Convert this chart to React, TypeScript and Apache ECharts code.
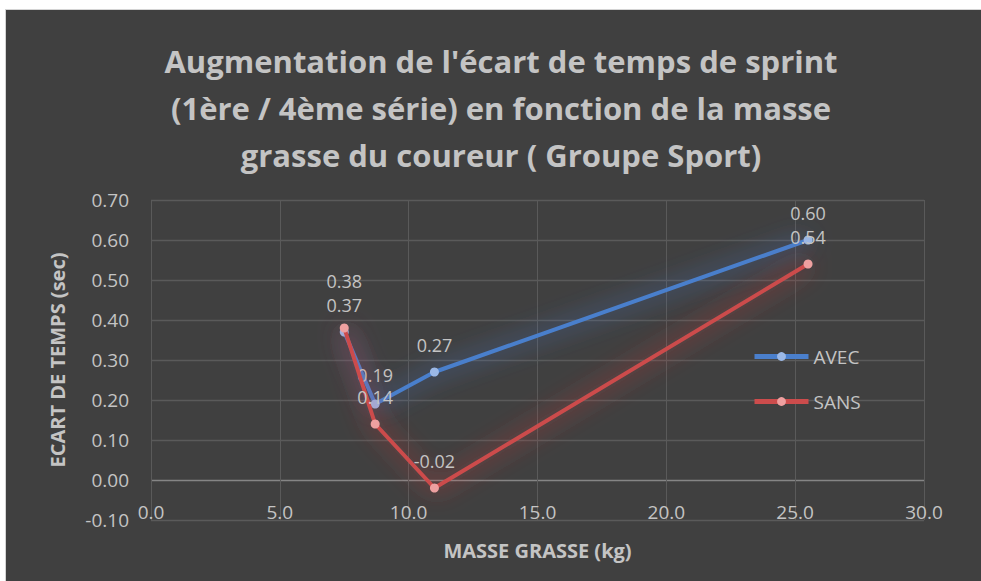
import React, { useEffect, useRef } from "react";
import * as echarts from "echarts";

const seriesNames = ["AVEC", "SANS"];
const masseGrasse = [7.5, 8.7, 11.0, 25.5];
const avecValues = [0.37, 0.19, 0.27, 0.6];
const sansValues = [0.38, 0.14, -0.02, 0.54];
const titleLines = [
  "Augmentation de l'écart de temps de sprint",
  "(1ère / 4ème série) en fonction de la masse",
  "grasse du coureur ( Groupe Sport)",
];
const xAxisTitle = "MASSE GRASSE (kg)";
const yAxisTitle = "ECART DE TEMPS (sec)";

const TEXT = "#c4c4c4";
const GRID = "#5a5a5a";
const ZERO = "#858585";
const FONT = "'Open Sans', 'Noto Sans', sans-serif";

export default function App() {
  const ref = useRef<HTMLDivElement>(null);
  useEffect(() => {
    if (!ref.current) return;
    const chart = echarts.init(ref.current, undefined, { renderer: "svg" });
    const mk = (xs: number[], ys: number[], extra?: Record<number, any>) =>
      xs.map((x, i) => {
        const item: any = { value: [x, ys[i]] };
        if (extra && extra[i]) item.label = extra[i];
        return item;
      });
    const labelBase = {
      show: true,
      position: "top",
      distance: 14,
      color: TEXT,
      fontSize: 18,
      lineHeight: 17,
      fontFamily: FONT,
      formatter: (p: any) => p.value[1].toFixed(2),
    };
    // grid line colours: tick -0.10 .. 0.70, the 0.00 line is brighter
    const yTickCount = 9;
    const ySplitColors = Array.from({ length: yTickCount }, (_, i) => (i === 1 ? ZERO : GRID));
    chart.setOption({
      animation: false,
      backgroundColor: "#ffffff",
      graphic: [
        {
          type: "rect",
          z: -10,
          shape: { x: 5.5, y: 9.5, width: 980, height: 580 },
          style: { fill: "#404040", stroke: "#d4d4d4", lineWidth: 1 },
          silent: true,
        },
      ],
      title: {
        text: titleLines.join("\n"),
        left: 496,
        textAlign: "center",
        top: 32,
        textStyle: {
          color: TEXT,
          fontSize: 31,
          fontWeight: "bold",
          fontFamily: FONT,
          lineHeight: 47,
        },
      },
      legend: {
        orient: "vertical",
        left: 752,
        top: 347,
        padding: 0,
        itemWidth: 54,
        itemHeight: 11,
        itemGap: 26,
        lineStyle: { width: 5 },
        textStyle: { color: TEXT, fontSize: 19, fontFamily: FONT },
        data: seriesNames,
      },
      grid: { left: 151, right: 57, top: 200, bottom: 61, outerBoundsMode: "none" },
      xAxis: {
        type: "value",
        min: 0,
        max: 30,
        interval: 5,
        name: xAxisTitle,
        nameLocation: "middle",
        nameGap: 20,
        nameTextStyle: { color: TEXT, fontSize: 20, fontWeight: "bold", fontFamily: FONT },
        axisLine: { show: false, onZero: false },
        axisTick: { show: false },
        axisLabel: {
          color: TEXT,
          fontSize: 19,
          fontFamily: FONT,
          margin: -18,
          formatter: (v: number) => v.toFixed(1),
        },
        splitLine: { show: true, lineStyle: { color: GRID, width: 1 } },
      },
      yAxis: {
        type: "value",
        min: -0.1,
        max: 0.7,
        interval: 0.1,
        name: yAxisTitle,
        nameLocation: "middle",
        nameGap: 84,
        nameTextStyle: { color: TEXT, fontSize: 20, fontWeight: "bold", fontFamily: FONT },
        axisLine: { show: false },
        axisTick: { show: false },
        axisLabel: {
          color: TEXT,
          fontSize: 19,
          fontFamily: FONT,
          margin: 22,
          formatter: (v: number) => v.toFixed(2),
        },
        splitLine: { show: true, lineStyle: { color: ySplitColors, width: 1.3 } },
      },
      series: [
        {
          name: seriesNames[0],
          type: "line",
          data: mk(masseGrasse, avecValues, { 1: { offset: [0, -2] } }),
          symbol: "circle",
          symbolSize: 9,
          z: 3,
          lineStyle: {
            color: "#4a7fcc",
            width: 4,
            shadowBlur: 24,
            shadowColor: "rgba(74,127,220,1)",
          },
          itemStyle: { color: "#9bb8e6", borderWidth: 0 },
          label: labelBase,
        },
        {
          name: seriesNames[1],
          type: "line",
          data: mk(masseGrasse, sansValues, { 0: { offset: [0, -20] } }),
          symbol: "circle",
          symbolSize: 9,
          z: 4,
          lineStyle: {
            color: "#cc4c4c",
            width: 4,
            shadowBlur: 24,
            shadowColor: "rgba(230,60,60,1)",
          },
          itemStyle: { color: "#eea0a0", borderWidth: 0 },
          label: labelBase,
        },
      ],
    });
    return () => chart.dispose();
  }, []);
  return (
    <div
      ref={ref}
      style={{ position: "fixed", left: 0, top: 0, width: 981, height: 581 }}
    />
  );
}
